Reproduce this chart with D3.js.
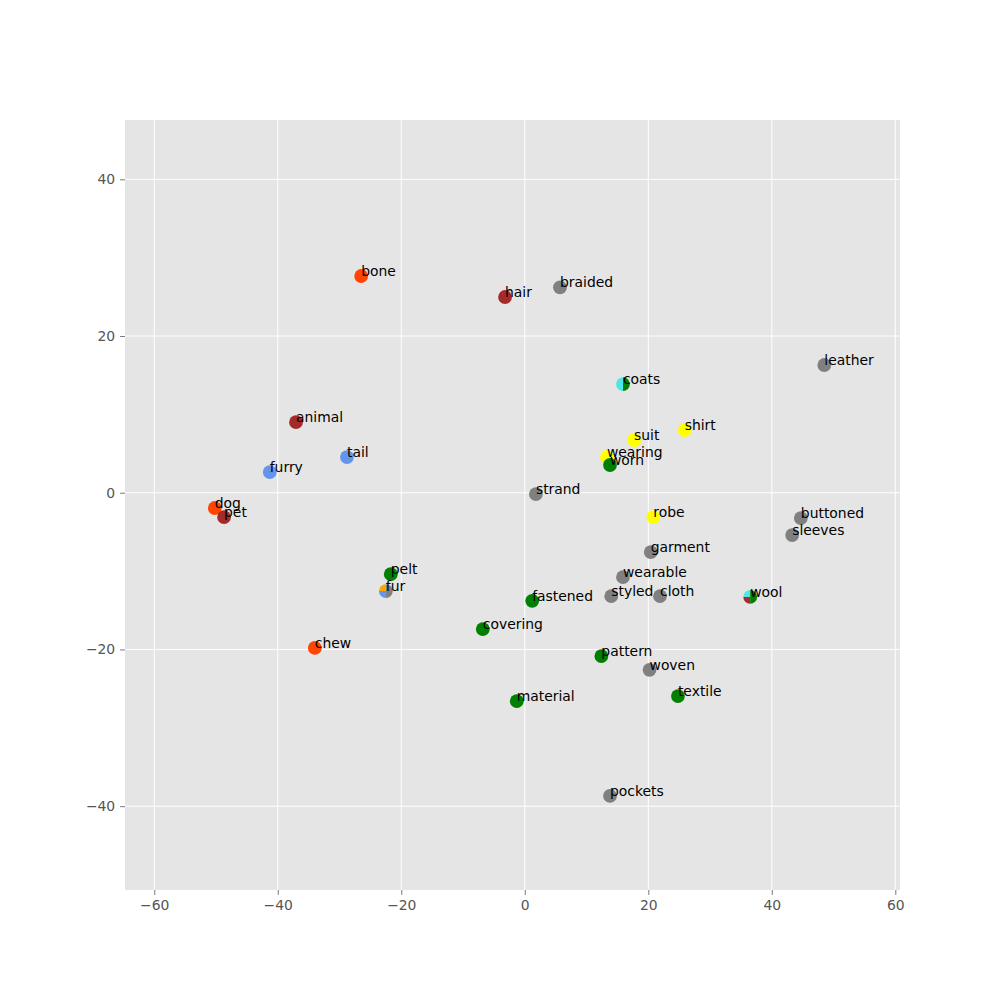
<!DOCTYPE html>
<html>
<head>
<meta charset="utf-8">
<script src="https://cdn.jsdelivr.net/npm/d3@7"></script>
<style>
  html, body { margin: 0; padding: 0; background: #fff; }
  svg { display: block; }
  text { font-family: "DejaVu Sans", sans-serif; }
</style>
</head>
<body>
<svg id="chart" width="1000" height="1000"></svg>
<script>
const words = ["bone","hair","braided","leather","coats","animal","suit","shirt","tail","furry",
  "wearing","worn","strand","dog","pet","robe","buttoned","sleeves","garment","wearable",
  "pelt","fur","styled","cloth","wool","fastened","covering","chew","pattern","woven",
  "textile","material","pockets"];
const xVals = [-26.5,-3.2,5.7,48.5,15.9,-37.05,17.7,25.9,-28.8,-41.3,
  13.3,13.8,1.8,-50.2,-48.7,20.8,44.7,43.3,20.4,15.9,
  -21.7,-22.5,14.0,21.9,36.5,1.2,-6.8,-34.0,12.4,20.2,
  24.8,-1.3,13.8];
const yVals = [27.66,24.98,26.2,16.3,13.87,9.0,6.73,8.0,4.55,2.64,
  4.56,3.54,-0.17,-1.95,-3.1,-3.1,-3.23,-5.4,-7.57,-10.76,
  -10.4,-12.55,-13.2,-13.2,-13.3,-13.8,-17.4,-19.8,-20.85,-22.6,
  -25.95,-26.6,-38.7];
// groups each word belongs to (pie marker if several)
const groups = [["dogthing"],["animalthing"],["other"],["other"],["coat","clothing"],["animalthing"],["wear"],["wear"],["fluffy"],["fluffy"],
  ["wear"],["clothing"],["other"],["dogthing"],["animalthing"],["wear"],["other"],["other"],["other"],["other"],
  ["clothing"],["orangeg","fluffy","other"],["other"],["other"],["coat","animalthing","clothing"],["clothing"],["clothing"],["dogthing"],["clothing"],["other"],
  ["clothing"],["clothing"],["other"]];
const groupNames = ["dogthing","animalthing","other","coat","clothing","wear","fluffy","orangeg"];
const groupColors = ["#ff4500","#a52a2a","#808080","#4ee6e6","#008000","#ffff00","#6495ed","#ffa500"];
const xTicks = [-60,-40,-20,0,20,40,60];
const yTicks = [-40,-20,0,20,40];

const svg = d3.select("#chart");
const L = 125, R = 900, T = 120, B = 890;
const x = d3.scaleLinear().domain([-64.74, 60.76]).range([L, R]);
const y = d3.scaleLinear().domain([-50.7, 47.57]).range([B, T]);
const color = d3.scaleOrdinal().domain(groupNames).range(groupColors);

svg.append("rect").attr("x", L).attr("y", T).attr("width", R - L).attr("height", B - T).attr("fill", "#e5e5e5");

// grid
svg.append("g").selectAll("line").data(xTicks).join("line")
  .attr("x1", d => x(d)).attr("x2", d => x(d)).attr("y1", T).attr("y2", B)
  .attr("stroke", "#fff").attr("stroke-width", 1);
svg.append("g").selectAll("line").data(yTicks).join("line")
  .attr("y1", d => y(d)).attr("y2", d => y(d)).attr("x1", L).attr("x2", R)
  .attr("stroke", "#fff").attr("stroke-width", 1);

// axes
const fmt = d => d < 0 ? "\u2212" + Math.abs(d) : String(d);
const xAxis = svg.append("g").attr("transform", `translate(0,${B})`)
  .call(d3.axisBottom(x).tickValues(xTicks).tickFormat(fmt).tickSize(4.9).tickPadding(4.9));
const yAxis = svg.append("g").attr("transform", `translate(${L},0)`)
  .call(d3.axisLeft(y).tickValues(yTicks).tickFormat(fmt).tickSize(4.9).tickPadding(4.9));
[xAxis, yAxis].forEach(a => {
  a.select(".domain").remove();
  a.selectAll(".tick line").attr("stroke", "#555").attr("stroke-width", 0.8);
  a.selectAll(".tick text").attr("fill", "#555").style("font-size", "13.9px").style("font-family", "DejaVu Sans");
});

// markers
const r = 6.9;
const arc = d3.arc().innerRadius(0).outerRadius(r);
const pts = words.map((w, i) => ({ w, x: xVals[i], y: yVals[i], g: groups[i] }));
const mg = svg.append("g");
pts.forEach(p => {
  const g = mg.append("g").attr("transform", `translate(${x(p.x)},${y(p.y)})`);
  if (p.g.length === 1) {
    g.append("circle").attr("r", r).attr("fill", color(p.g[0]));
  } else {
    const n = p.g.length;
    // fractions: halves for 2, quarter/quarter/half for 3
    const fracs = n === 2 ? [0.5, 0.5] : [0.25, 0.25, 0.5];
    let c = 0;
    p.g.forEach((gn, k) => {
      const s = c, e = c + fracs[k];
      c = e;
      g.append("path").attr("d", arc({ startAngle: -s * 2 * Math.PI, endAngle: -e * 2 * Math.PI }))
        .attr("fill", color(gn));
    });
  }
});

// labels
svg.append("g").selectAll("text").data(pts).join("text")
  .attr("x", d => x(d.x)).attr("y", d => y(d.y))
  .attr("fill", "#000").style("font-size", "13.9px")
  .text(d => d.w);
</script>
</body>
</html>
